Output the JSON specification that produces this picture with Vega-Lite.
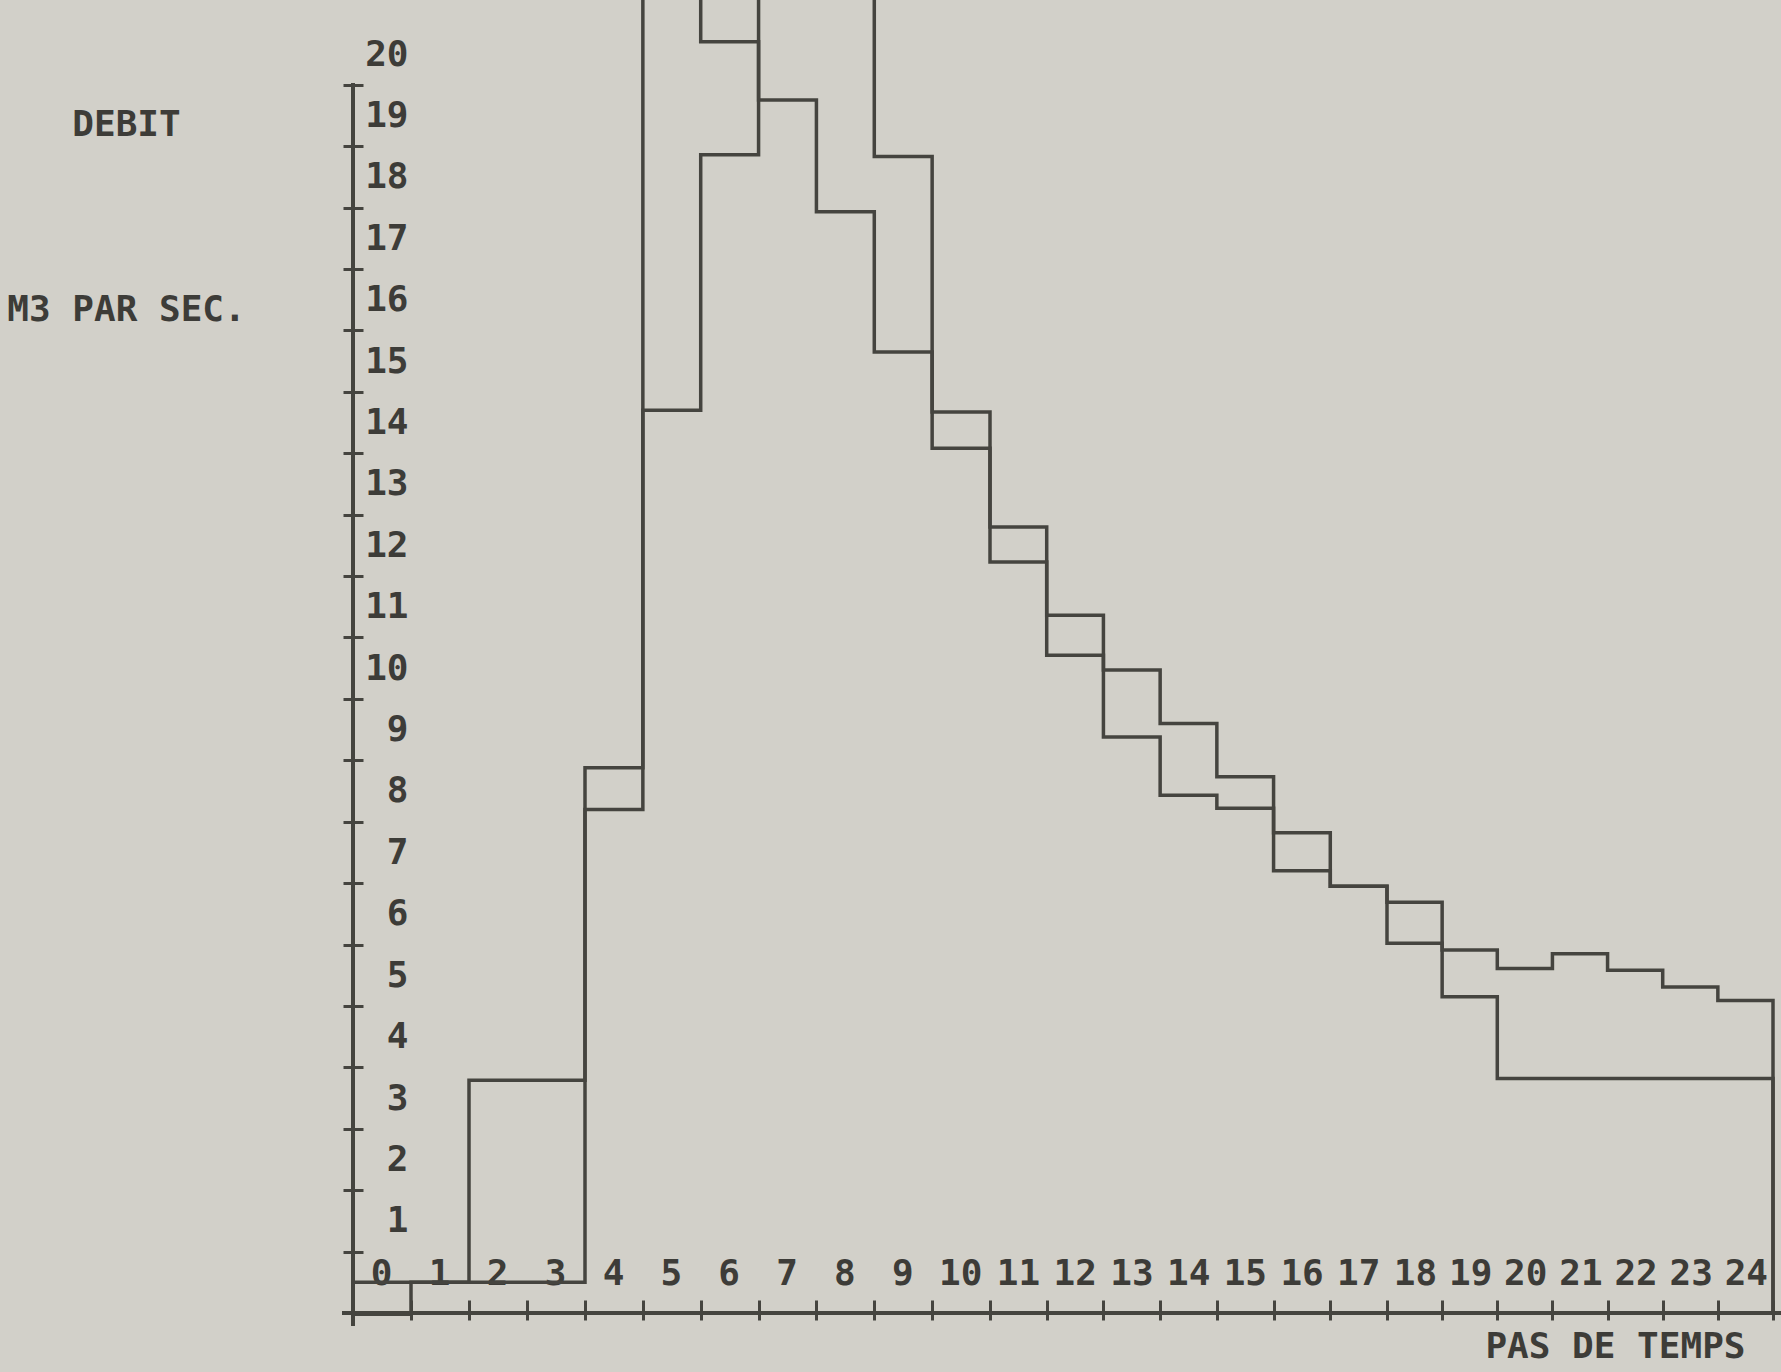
{
  "$schema": "https://vega.github.io/schema/vega-lite/v6.json",
  "width": 1428,
  "height": 1313,
  "autosize": {"type": "none"},
  "padding": {"left": 353, "top": 0, "right": 0, "bottom": 59},
  "background": "#d2d0c9",
  "config": {
    "view": {"stroke": null},
    "font": "DejaVu Sans Mono",
    "axis": {
      "labelFont": "DejaVu Sans Mono",
      "labelFontWeight": "bold",
      "labelFontSize": 36,
      "labelColor": "#3d3c38",
      "tickColor": "#45443f",
      "tickWidth": 3,
      "titleFont": "DejaVu Sans Mono",
      "titleFontWeight": "bold",
      "titleFontSize": 36,
      "titleColor": "#3d3c38",
      "grid": false,
      "domain": false,
      "labelOverlap": false,
      "labelFlush": false,
      "labelBound": false
    }
  },
  "data": {
    "values": [
      {"serie": "P", "t": 0, "q": 0},
      {"serie": "P", "t": 1, "q": 0},
      {"serie": "P", "t": 2, "q": 3.29},
      {"serie": "P", "t": 3, "q": 3.29},
      {"serie": "P", "t": 4, "q": 8.38},
      {"serie": "P", "t": 5, "q": 22},
      {"serie": "P", "t": 6, "q": 20.2},
      {"serie": "P", "t": 7, "q": 19.25},
      {"serie": "P", "t": 8, "q": 17.43},
      {"serie": "P", "t": 9, "q": 15.15},
      {"serie": "P", "t": 10, "q": 13.58},
      {"serie": "P", "t": 11, "q": 11.73},
      {"serie": "P", "t": 12, "q": 10.21},
      {"serie": "P", "t": 13, "q": 8.88},
      {"serie": "P", "t": 14, "q": 7.93},
      {"serie": "P", "t": 15, "q": 7.72},
      {"serie": "P", "t": 16, "q": 6.7},
      {"serie": "P", "t": 17, "q": 6.45},
      {"serie": "P", "t": 18, "q": 5.52},
      {"serie": "P", "t": 19, "q": 4.65},
      {"serie": "P", "t": 20, "q": 3.32},
      {"serie": "P", "t": 21, "q": 3.32},
      {"serie": "P", "t": 22, "q": 3.32},
      {"serie": "P", "t": 23, "q": 3.32},
      {"serie": "P", "t": 24, "q": 3.32},
      {"serie": "P", "t": 25, "q": -0.52},
      {"serie": "Q", "t": 0, "q": -0.52},
      {"serie": "Q", "t": 1, "q": 0},
      {"serie": "Q", "t": 2, "q": 0},
      {"serie": "Q", "t": 3, "q": 0},
      {"serie": "Q", "t": 4, "q": 7.7},
      {"serie": "Q", "t": 5, "q": 14.2},
      {"serie": "Q", "t": 6, "q": 18.36},
      {"serie": "Q", "t": 7, "q": 22},
      {"serie": "Q", "t": 8, "q": 22},
      {"serie": "Q", "t": 9, "q": 18.33},
      {"serie": "Q", "t": 10, "q": 14.17},
      {"serie": "Q", "t": 11, "q": 12.3},
      {"serie": "Q", "t": 12, "q": 10.86},
      {"serie": "Q", "t": 13, "q": 9.97},
      {"serie": "Q", "t": 14, "q": 9.1},
      {"serie": "Q", "t": 15, "q": 8.23},
      {"serie": "Q", "t": 16, "q": 7.32},
      {"serie": "Q", "t": 17, "q": 6.45},
      {"serie": "Q", "t": 18, "q": 6.19},
      {"serie": "Q", "t": 19, "q": 5.41},
      {"serie": "Q", "t": 20, "q": 5.11},
      {"serie": "Q", "t": 21, "q": 5.35},
      {"serie": "Q", "t": 22, "q": 5.08},
      {"serie": "Q", "t": 23, "q": 4.81},
      {"serie": "Q", "t": 24, "q": 4.59},
      {"serie": "Q", "t": 25, "q": -0.52}
    ]
  },
  "layer": [
    {
      "mark": {"type": "line", "interpolate": "step-after", "strokeWidth": 3.5, "color": "#45443f"},
      "encoding": {
        "x": {
          "field": "t", "type": "quantitative",
          "scale": {"domain": [0, 4, 11, 18, 25, 25.15], "range": [0, 232, 637, 1034, 1420, 1428]},
          "axis": {
            "orient": "bottom",
            "values": [0,1,2,3,4,5,6,7,8,9,10,11,12,13,14,15,16,17,18,19,20,21,22,23,24,25],
            "format": "d",
            "labelExpr": "datum.value < 25 ? datum.label : ''",
            "offset": -13,
            "tickSize": 20,
            "labelPadding": -47,
            "labelOffset": 28,
            "labelAlign": "center",
            "labelBaseline": "middle",
            "title": "PAS DE TEMPS",
            "titleX": 1392,
            "titleY": 46,
            "titleAlign": "right",
            "titleBaseline": "middle",
            "titleAnchor": "end"
          }
        },
        "y": {
          "field": "q", "type": "quantitative",
          "scale": {"domain": [-0.5, 20.88], "nice": false, "zero": false},
          "axis": {
            "orient": "left",
            "values": [0,1,2,3,4,5,6,7,8,9,10,11,12,13,14,15,16,17,18,19,20],
            "format": "d",
            "labelExpr": "datum.value > 0 ? datum.label : ''",
            "offset": -10,
            "tickSize": 20,
            "tickOffset": 30.7,
            "labelOffset": -30.7,
            "labelPadding": -65,
            "labelAlign": "right",
            "labelBaseline": "middle",
            "title": ["DEBIT", "M3 PAR SEC."],
            "titleAngle": 0,
            "titleAlign": "center",
            "titleBaseline": "alphabetic",
            "titleLineHeight": 185,
            "titleX": -237,
            "titleY": 135
          }
        },
        "detail": {"field": "serie", "type": "nominal"}
      }
    },
    {
      "mark": {"type": "rule", "color": "#45443f", "strokeWidth": 3.5},
      "encoding": {
        "x": {"datum": -0.18, "type": "quantitative",
              "scale": {"domain": [0, 4, 11, 18, 25, 25.15], "range": [0, 232, 637, 1034, 1420, 1428]}},
        "x2": {"datum": 25.15},
        "y": {"datum": -0.5, "type": "quantitative",
              "scale": {"domain": [-0.5, 20.88], "nice": false, "zero": false}}
      }
    },
    {
      "mark": {"type": "rule", "color": "#45443f", "strokeWidth": 3.5},
      "encoding": {
        "x": {"datum": 0, "type": "quantitative",
              "scale": {"domain": [0, 4, 11, 18, 25, 25.15], "range": [0, 232, 637, 1034, 1420, 1428]}},
        "y": {"datum": -0.7, "type": "quantitative",
              "scale": {"domain": [-0.5, 20.88], "nice": false, "zero": false}},
        "y2": {"datum": 19.53}
      }
    }
  ]
}
